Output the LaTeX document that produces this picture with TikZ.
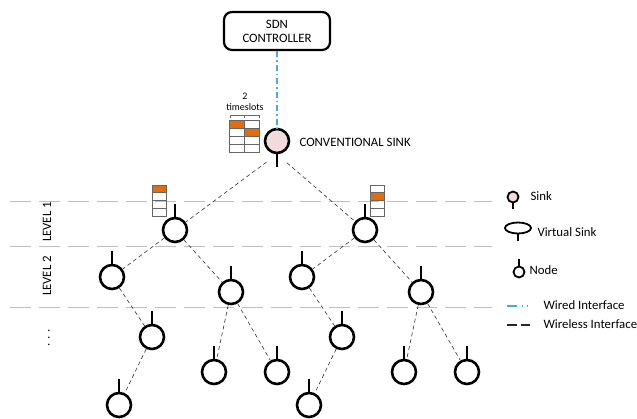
\documentclass[tikz,border=0pt]{standalone}
\usepackage{fontspec}
\setmainfont{Carlito}
\usetikzlibrary{shapes.geometric}
\definecolor{sinkpink}{RGB}{242,220,219}
\definecolor{slotorange}{RGB}{228,108,10}
\definecolor{wiredblue}{RGB}{75,172,198}
\begin{document}
\begin{tikzpicture}[x=1pt,y=1pt,font=\fontsize{12.8}{14}\selectfont,
 nd/.style={circle,draw,line width=2.6pt,minimum size=24pt,inner sep=0pt},
 sk/.style={nd,fill=sinkpink},
 stem/.style={line width=2.8pt},
 radio/.style={dash pattern=on 4pt off 3pt,black!80,line width=0.6pt},
 wired/.style={wiredblue,line width=1.2pt,dash pattern=on 6pt off 3pt on 1.5pt off 3pt},
 lvl/.style={black!25,line width=0.9pt,dash pattern=on 21pt off 8pt},
 slot/.style={draw=black!60,line width=0.6pt},
 lg/.style={line width=1.8pt,minimum size=11pt,inner sep=0pt}]
 \useasboundingbox (0,0) rectangle (637,418);
 \draw[lvl] (10,217) -- (492,217);
 \draw[lvl] (10,172) -- (492,172);
 \draw[lvl] (10,111) -- (492,111);
 \node[rotate=90] (lv1) at (47,196) {LEVEL 1};
 \node[rotate=90] (lv2) at (47,142) {LEVEL 2};
 \node[rotate=90] (lvn) at (49,80) {. . .};

 \node[draw,line width=2.2pt,rounded corners=8pt,minimum width=106pt,minimum height=38pt,align=center,inner sep=1pt] (ctrl) at (277,387) {SDN\\CONTROLLER};
 \node[sk] (sink) at (277,277) {};
 \draw[stem] (sink.south) -- ++(0,-13);
 \node[anchor=west] (sinktxt) at (296,276) {CONVENTIONAL SINK};
 \draw[wired] (ctrl) -- (sink);

 \fill[slotorange] (229,290) rectangle ++(15,8);
 \fill[slotorange] (244,282) rectangle ++(15,8);
 \foreach \r in {0,...,3}
  \foreach \c in {0,1}
   \draw[slot] ({229+15*\c},{266+8*\r}) rectangle ++(15,8);
 \draw[black!60,line width=0.6pt] (230,300) -- (230,303) -- (259,303) -- (259,300) (244.5,303) -- (244.5,300);
 \node[font=\fontsize{10}{11}\selectfont] (ts) at (245,311) {timeslots};
 \node[font=\fontsize{10}{11}\selectfont] (two) at (245,322) {2};

 \node[nd] (l1a) at (175,188) {};
 \node[nd] (l1b) at (365,188) {};
 \node[nd] (l2a) at (112,141) {};
 \node[nd] (l2b) at (231,126) {};
 \node[nd] (l2c) at (302,141) {};
 \node[nd] (l2d) at (421,126) {};
 \node[nd] (l3a) at (152,81) {};
 \node[nd] (l3b) at (214,46) {};
 \node[nd] (l3c) at (277,46) {};
 \node[nd] (l3d) at (342,81) {};
 \node[nd] (l3e) at (404,46) {};
 \node[nd] (l3f) at (467,46) {};
 \node[nd] (l4a) at (119,13) {};
 \node[nd] (l4b) at (309,13) {};
 \foreach \n in {l1a,l1b,l2a,l2b,l2c,l2d,l3a,l3b,l3c,l3d,l3e,l3f,l4a,l4b}
  \draw[stem] (\n.north) -- ++(0,13);

 \fill[slotorange] (152,225.25) rectangle ++(14,7.75);
 \fill[slotorange] (370,217.5) rectangle ++(14,7.75);
 \foreach \r in {0,...,3} {
  \draw[slot] (152,{202+7.75*\r}) rectangle ++(14,7.75);
  \draw[slot] (370,{202+7.75*\r}) rectangle ++(14,7.75);
 }

 \draw[radio,shorten <=13pt] (sink.south) -- (l1a);
 \draw[radio,shorten <=13pt] (sink.south) -- (l1b);
 \draw[radio] (l1a) -- (l2a);
 \draw[radio] (l1a) -- (l2b);
 \draw[radio] (l1b) -- (l2c);
 \draw[radio] (l1b) -- (l2d);
 \draw[radio] (l2a) -- (l3a);
 \draw[radio] (l3a) -- (l4a);
 \draw[radio] (l2b) -- (l3b);
 \draw[radio] (l2b) -- (l3c);
 \draw[radio] (l2c) -- (l3d);
 \draw[radio] (l3d) -- (l4b);
 \draw[radio] (l2d) -- (l3e);
 \draw[radio] (l2d) -- (l3f);

 \node[circle,draw,lg,fill=sinkpink] (lgsink) at (513,221) {};
 \draw[line width=1.8pt] (lgsink.south) -- ++(0,-6);
 \node[anchor=west] (lgsinktxt) at (527,222) {Sink};
 \node[ellipse,draw,lg,minimum width=26pt,minimum height=11pt] (lgvs) at (518,190) {};
 \draw[line width=1.8pt] (lgvs.south) -- ++(0,-7);
 \node[anchor=west] (lgvstxt) at (534,186) {Virtual Sink};
 \node[circle,draw,lg] (lgnd) at (519,146) {};
 \draw[line width=1.8pt] (lgnd.north) -- ++(0,7);
 \node[anchor=west] (lgndtxt) at (526,148) {Node};
 \coordinate (w1) at (507,112);
 \coordinate (w2) at (517,112);
 \coordinate (w3) at (522,112);
 \coordinate (w4) at (531,112);
 \draw[wiredblue,line width=1.2pt] (w1) -- (w2);
 \draw[wiredblue,line width=1.2pt,dash pattern=on 1.2pt off 4pt] (w3) -- (w4);
 \node[anchor=west] (lgwtxt) at (540,113) {Wired Interface};
 \coordinate (r1) at (507,93);
 \coordinate (r2) at (530,93);
 \draw[black!85,line width=1.2pt,dash pattern=on 10pt off 4pt] (r1) -- (r2);
 \node[anchor=west] (lgrtxt) at (540,94) {Wireless Interface};
\end{tikzpicture}
\end{document}
